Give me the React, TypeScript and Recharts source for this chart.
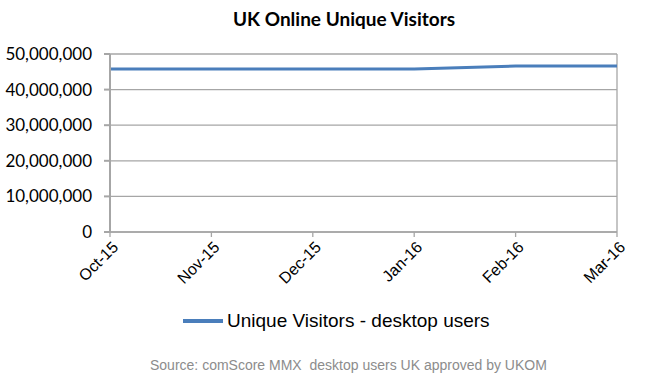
import React from "react";
import { LineChart, Line, XAxis, YAxis, CartesianGrid, ReferenceLine } from "recharts";

const months = ["Oct-15", "Nov-15", "Dec-15", "Jan-16", "Feb-16", "Mar-16"];
const visitors = [45800000, 45800000, 45800000, 45800000, 46600000, 46600000];
const yTicks = [0, 10000000, 20000000, 30000000, 40000000, 50000000];
const title = "UK Online Unique Visitors";
const seriesName = "Unique Visitors - desktop users";
const source = "Source: comScore MMX  desktop users UK approved by UKOM";

const data = months.map((m, i) => ({ month: m, value: visitors[i] }));

const GRID = "#A6A6A6";
const LINE = "#4A7EBB";

const XTick = (props: any) => {
  const { x, y, payload } = props;
  return (
    <g transform={`translate(${x},${y})`}>
      <text
        x={0}
        y={0}
        dy={13}
        dx={0}
        textAnchor="end"
        transform="rotate(-45)"
        fontFamily="'Liberation Sans', Arial, sans-serif"
        fontSize={16}
        fill="#000"
      >
        {payload.value}
      </text>
    </g>
  );
};

export default function App() {
  return (
    <div style={{ position: "absolute", left: 0, top: 0, width: 650, height: 389, background: "#fff" }}>
      <div
        style={{
          position: "absolute",
          left: 230,
          top: 7,
          width: 228,
          textAlign: "center",
          fontFamily: "Lato, 'Open Sans', sans-serif",
          fontWeight: 700,
          fontSize: 19,
          whiteSpace: "nowrap",
          color: "#000",
        }}
      >
        {title}
      </div>
      <LineChart width={650} height={389} data={data} margin={{ top: 54, right: 33, left: 0, bottom: 97 }}>
        <CartesianGrid vertical={false} stroke={GRID} strokeWidth={1.3} />
        <ReferenceLine x="Mar-16" stroke={GRID} strokeWidth={1.3} />
        <XAxis
          dataKey="month"
          height={60}
          interval={0}
          stroke={GRID}
          strokeWidth={1.3}
          tickSize={5}
          tick={<XTick />}
        />
        <YAxis
          width={110}
          domain={[0, 50000000]}
          ticks={yTicks}
          stroke={GRID}
          strokeWidth={2}
          tickSize={6}
          tickMargin={12}
          tickFormatter={(v: number) => v.toLocaleString("en-US")}
          tick={{ fill: "#000", fontFamily: "Lato, sans-serif", fontSize: 17 }}
        />
        <Line
          type="linear"
          dataKey="value"
          name={seriesName}
          stroke={LINE}
          strokeWidth={3}
          dot={false}
          isAnimationActive={false}
        />
      </LineChart>
      <div
        style={{
          position: "absolute",
          left: 183,
          top: 310,
          display: "flex",
          alignItems: "center",
          whiteSpace: "nowrap",
        }}
      >
        <div style={{ width: 40, height: 4, background: LINE, marginRight: 4 }} />
        <span style={{ fontFamily: "'Liberation Sans', Arial, sans-serif", fontSize: 19, color: "#000" }}>
          {seriesName}
        </span>
      </div>
      <div
        style={{
          position: "absolute",
          left: 150,
          top: 357,
          whiteSpace: "pre",
          fontFamily: "'Liberation Sans', Arial, sans-serif",
          fontSize: 14,
          color: "#8C8C8C",
        }}
      >
        {source}
      </div>
    </div>
  );
}
